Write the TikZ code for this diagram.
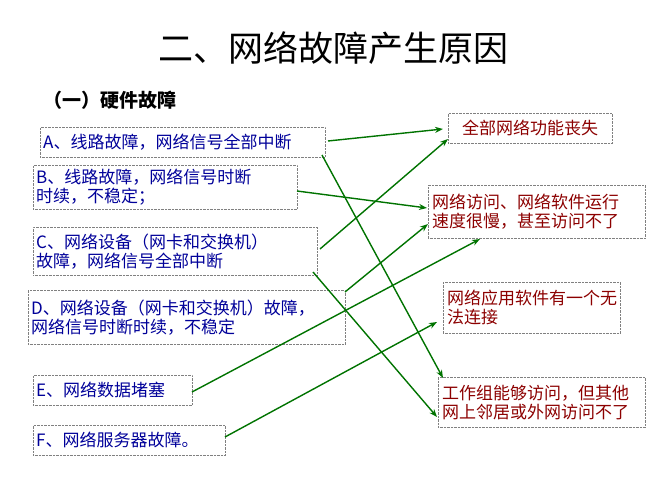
\documentclass[tikz,border=0pt]{standalone}
\usepackage{fontspec}
\setmainfont{Noto Sans CJK SC}
\usetikzlibrary{arrows.meta}
\begin{document}
\begin{tikzpicture}[x=1pt,y=-1pt,
  lbox/.style={draw=gray, densely dotted, inner xsep=3pt, inner ysep=2pt, align=left, font=\fontsize{17}{19}\selectfont, text=blue!60!black, anchor=north west},
  rbox/.style={draw=gray, densely dotted, inner xsep=4pt, inner ysep=2pt, align=left, font=\fontsize{17}{19}\selectfont, text=red!55!black, anchor=north west},
  conn/.style={draw=green!45!black, line width=1.4pt, -{Stealth[length=8pt,width=6pt]}}]
\useasboundingbox (0,0) rectangle (667,500);
\node[font=\fontsize{35}{37}\selectfont] (title) at (333,48) {二、网络故障产生原因};
\node[font=\fontsize{19}{21}\selectfont\bfseries, anchor=west] (sub) at (40,100) {（一）硬件故障};
\node[lbox, text width=279pt, minimum height=30pt] (A) at (40,127) {A、线路故障，网络信号全部中断};
\node[lbox, text width=258pt, minimum height=44pt] (B) at (33,165) {B、线路故障，网络信号时断\\时续，不稳定；};
\node[lbox, text width=278pt, minimum height=48pt] (C) at (33,227) {C、网络设备（网卡和交换机）\\故障，网络信号全部中断};
\node[lbox, text width=311pt, minimum height=54pt] (D) at (28,290) {D、网络设备（网卡和交换机）故障，\\网络信号时断时续，不稳定};
\node[lbox, text width=153pt, minimum height=30pt] (E) at (33,375) {E、网络数据堵塞};
\node[lbox, text width=186pt, minimum height=30pt] (F) at (33,425) {F、网络服务器故障。};
\node[rbox, text width=156pt, minimum height=30pt, align=center] (R1) at (448,113) {全部网络功能丧失};
\node[rbox, text width=209pt, minimum height=53pt] (R2) at (428,185) {网络访问、网络软件运行\\速度很慢，甚至访问不了};
\node[rbox, text width=169pt, minimum height=51pt] (R3) at (443,282) {网络应用软件有一个无\\法连接};
\node[rbox, text width=199pt, minimum height=50pt] (R4) at (438,377) {工作组能够访问，但其他\\网上邻居或外网访问不了};
\coordinate (a1) at (328,141); \coordinate (a2) at (322,155);
\coordinate (b1) at (297,191);
\coordinate (c1) at (320,249); \coordinate (c2) at (313,272);
\coordinate (d1) at (345,292);
\coordinate (e1) at (192,392);
\coordinate (f1) at (225,437);
\coordinate (r1a) at (443,129); \coordinate (r1b) at (448,139);
\coordinate (r2a) at (427,208); \coordinate (r2b) at (428,224); \coordinate (r2c) at (480,239);
\coordinate (r3a) at (437,322);
\coordinate (r4a) at (443,378); \coordinate (r4b) at (437,417);
\draw[conn] (a1) -- (r1a);
\draw[conn] (a2) -- (r4a);
\draw[conn] (b1) -- (r2a);
\draw[conn] (c1) -- (r1b);
\draw[conn] (c2) -- (r4b);
\draw[conn] (d1) -- (r2b);
\draw[conn] (e1) -- (r2c);
\draw[conn] (f1) -- (r3a);
\end{tikzpicture}
\end{document}
